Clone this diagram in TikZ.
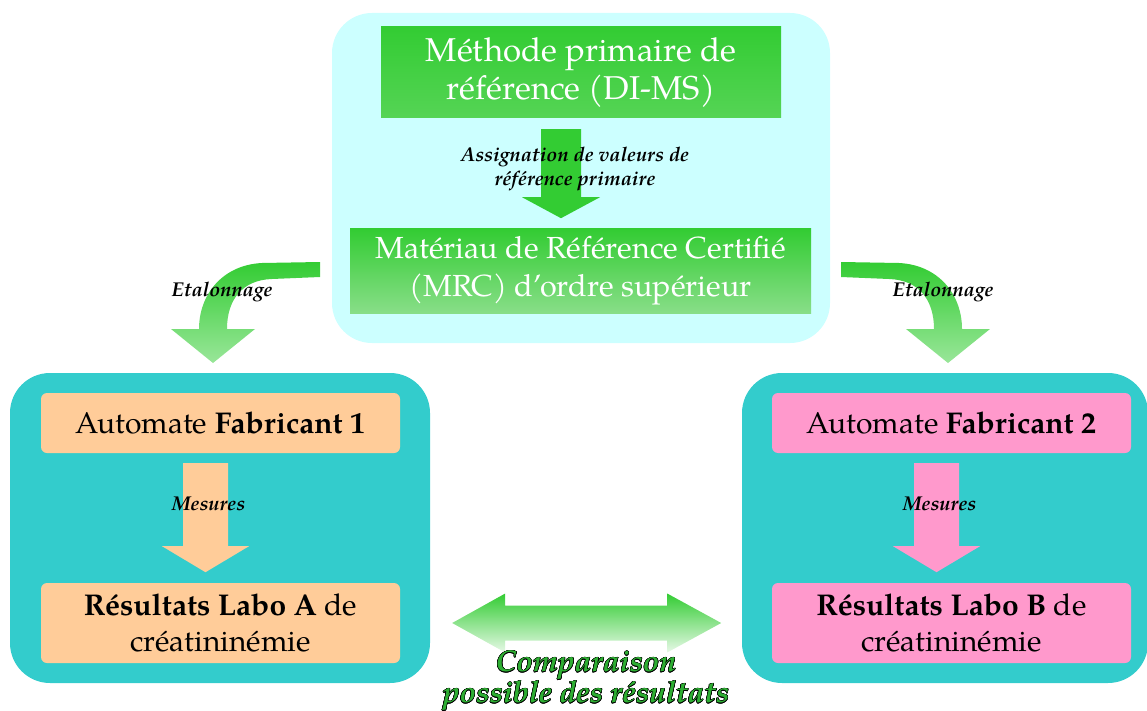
\documentclass[tikz,border=0pt]{standalone}
\usepackage{fontspec}
\setmainfont{texgyrepagella}[Extension=.otf, UprightFont=*-regular, BoldFont=*-bold, ItalicFont=*-italic, BoldItalicFont=*-bolditalic]
\usepackage[copies]{contour}
\usetikzlibrary{calc}
\definecolor{cyanbg}{HTML}{CCFFFF}
\definecolor{tealbg}{HTML}{33CCCC}
\definecolor{green1}{HTML}{33CC33}
\definecolor{green2}{HTML}{55D455}
\definecolor{green3}{HTML}{88DE88}
\definecolor{green4}{HTML}{99E699}
\definecolor{orangebox}{HTML}{FFCC99}
\definecolor{pinkbox}{HTML}{FF99CC}
\definecolor{compgreen}{HTML}{2EAE33}
\contourlength{0.5pt}
\tikzset{
	box/.style={rectangle, inner sep=0pt, align=center},
	greenbox/.style={box, top color=green1, text=white, font=\fontsize{32}{38}\selectfont},
	labbox/.style={box, rounded corners=6, font=\fontsize{30}{36}\selectfont},
	tag/.style={align=center, font=\bfseries\itshape\fontsize{20}{24}\selectfont}
}
\begin{document}
\begin{tikzpicture}[x=1pt,y=-1pt]
\useasboundingbox (0,0) rectangle (1147,711);
% backgrounds
\fill[cyanbg, rounded corners=40] (332,13) rectangle (830,343);
\fill[tealbg, rounded corners=40] (10,373) rectangle (430,683);
\fill[tealbg, rounded corners=40] (742,373) rectangle (1148,683);
% top block
\node[greenbox, bottom color=green2, minimum width=400, minimum height=91,
	font=\fontsize{33}{38}\selectfont] (meth) at (581,72.5)
	{Méthode primaire de\\référence (DI-MS)};
\node[greenbox, bottom color=green3, minimum width=461, minimum height=84,
	font=\fontsize{30.5}{38}\selectfont] (mrc) at (580.5,271)
	{Matériau de Référence Certifié\\(MRC) d’ordre supérieur};
\fill[green1] ($(meth.south)+(-40,11)$) -- ++(40,0) -- ++(0,68) -- ++(19,0)
	-- ++(-39,21) -- ++(-39,-21) -- ++(19,0) -- cycle;
\node[tag] (assign) at (575,169) {Assignation de valeurs de\\référence primaire};
% labs
\node[labbox, fill=orangebox, minimum width=359, minimum height=60] (fabA) at (220.5,423)
	{Automate \textbf{Fabricant 1}};
\node[labbox, fill=orangebox, minimum width=359, minimum height=80] (resA) at (220.5,623)
	{\textbf{Résultats Labo A} de\\créatininémie};
\node[labbox, fill=pinkbox, minimum width=359, minimum height=60] (fabB) at (951.5,423)
	{Automate \textbf{Fabricant 2}};
\node[labbox, fill=pinkbox, minimum width=359, minimum height=80] (resB) at (951.5,623)
	{\textbf{Résultats Labo B} de\\créatininémie};
\foreach \n/\c in {fabA/orangebox, fabB/pinkbox} {
	\fill[\c] ($(\n.south)+(-37.5,10)$) -- ++(45,0) -- ++(0,83) -- ++(21,0)
		-- ++(-43.5,26) -- ++(-43.5,-26) -- ++(21,0) -- cycle;
}
\node[tag] (mesA) at (208.5,504) {Mesures};
\node[tag] (mesB) at (939.5,504) {Mesures};
% calibration arrows
\foreach \s/\m in {0/1, 1161/-1} {
	\shade[shift={(\s,0)}, xscale=\m, top color=green1, bottom color=green4]
		(320,262) -- (262,263) .. controls (222,265) and (199,295) .. (199,329)
		-- (171,329) -- (213,363) -- (255,329) -- (227,329)
		.. controls (227,300) and (242,280) .. (272,279) -- (320,277) -- cycle;
}
\node[tag] (etalA) at (222,292) {Etalonnage};
\node[tag] (etalB) at (943,292) {Etalonnage};
% comparison
\shade[top color=green1, bottom color=green1!12] ($(resA.east)+(52,0)$)
	-- ++(53,-29.5) -- ++(0,12) -- ++(162,0) -- ++(0,-12) -- ++(54,29.5)
	-- ++(-54,29.5) -- ++(0,-12) -- ++(-162,0) -- ++(0,12) -- cycle;
\node[tag, text=compgreen, font=\bfseries\itshape\fontsize{30}{31}\selectfont] (comp) at (586,681)
	{\contour{black}{Comparaison}\\\contour{black}{possible des résultats}};
\end{tikzpicture}
\end{document}
